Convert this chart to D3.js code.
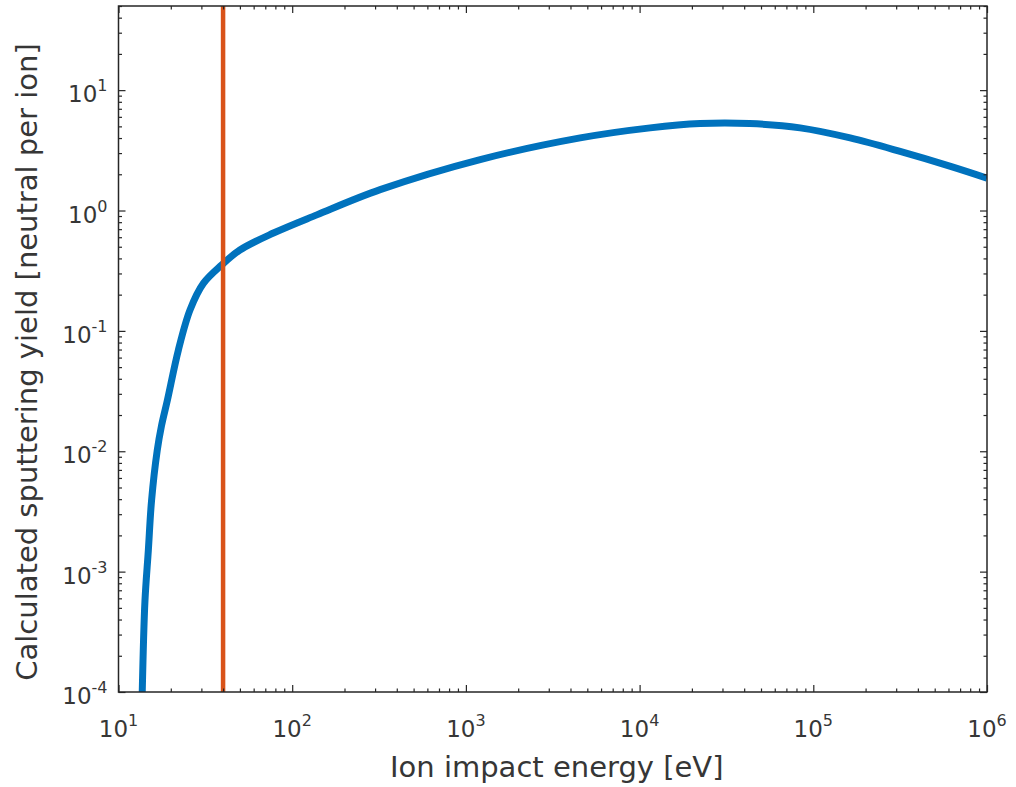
<!DOCTYPE html>
<html>
<head>
<meta charset="utf-8">
<script src="https://cdn.jsdelivr.net/npm/d3@7"></script>
<style>
  body { margin: 0; background: #fff; }
  text { font-family: "DejaVu Sans", sans-serif; fill: #363636; }
</style>
</head>
<body>
<div id="chart"></div>
<script>
// sputtering yield (eV, neutral per ion)
const energy = [13.7, 14.2, 14.85, 15.5, 16.7, 17.7, 19.1, 22.1, 25.8, 30.8, 39.3, 50, 78, 138.6, 321, 1208, 4550, 11500, 22300, 43000, 84000, 163000, 316000, 617000, 1000000];
const yieldVals = [1e-4, 5.7e-4, 1.5e-3, 3.9e-3, 0.0101, 0.0164, 0.0264, 0.069, 0.149, 0.248, 0.353, 0.47, 0.65, 0.92, 1.49, 2.65, 4.01, 4.86, 5.28, 5.28, 4.86, 4.01, 3.1, 2.33, 1.86];
const thresholdEnergy = 40;
const xExponents = [1, 2, 3, 4, 5, 6];
const yExponents = [-4, -3, -2, -1, 0, 1];
const xDomain = [10, 1e6];
const yDomain = [1e-4, 50];

const W = 1016, H = 787;
const margin = { top: 6, right: 29, bottom: 95, left: 118.5 };
const width = W - margin.left - margin.right;
const height = H - margin.top - margin.bottom;

const data = energy.map((e, i) => ({ e: e, y: yieldVals[i] }));

const svg = d3.select("#chart").append("svg")
    .attr("width", W)
    .attr("height", H)
  .append("g")
    .attr("transform", `translate(${margin.left},${margin.top})`);

const x = d3.scaleLog().domain(xDomain).range([0, width]);
const y = d3.scaleLog().domain(yDomain).range([height, 0]);

svg.append("clipPath").attr("id", "clip")
  .append("rect").attr("width", width).attr("height", height);

// minor ticks: 2..9 in each decade
const minorX = [];
xExponents.slice(0, -1).forEach(k => { for (let m = 2; m <= 9; m++) minorX.push(m * Math.pow(10, k)); });
const minorY = [];
for (let k = -4; k <= 1; k++) { for (let m = 2; m <= 9; m++) { const v = m * Math.pow(10, k); if (v <= yDomain[1]) minorY.push(v); } }
const majorX = xExponents.map(k => Math.pow(10, k));
const majorY = yExponents.map(k => Math.pow(10, k));

function styleAxis(g) {
  g.select(".domain").remove();
  g.selectAll("line").attr("stroke", "#262626").attr("stroke-width", 1.2);
}

// curve
const line = d3.line()
    .x(d => x(d.e))
    .y(d => y(d.y))
    .curve(d3.curveCatmullRom.alpha(0.5));

svg.append("path")
    .datum(data)
    .attr("clip-path", "url(#clip)")
    .attr("fill", "none")
    .attr("stroke", "#0072BD")
    .attr("stroke-width", 7)
    .attr("d", line);

// threshold line
svg.append("line")
    .attr("x1", x(thresholdEnergy)).attr("x2", x(thresholdEnergy))
    .attr("y1", 0).attr("y2", height)
    .attr("stroke", "#D95319")
    .attr("stroke-width", 4.5);

// ticks on all four sides, pointing inward
svg.append("g").attr("transform", `translate(0,${height})`)
    .call(d3.axisBottom(x).tickValues(minorX).tickSize(-3.5).tickFormat("")).call(styleAxis);
svg.append("g").attr("transform", `translate(0,${height})`)
    .call(d3.axisBottom(x).tickValues(majorX).tickSize(-7).tickFormat("")).call(styleAxis);
svg.append("g")
    .call(d3.axisTop(x).tickValues(minorX).tickSize(-3.5).tickFormat("")).call(styleAxis);
svg.append("g")
    .call(d3.axisTop(x).tickValues(majorX).tickSize(-7).tickFormat("")).call(styleAxis);
svg.append("g")
    .call(d3.axisLeft(y).tickValues(minorY).tickSize(-3.5).tickFormat("")).call(styleAxis);
svg.append("g")
    .call(d3.axisLeft(y).tickValues(majorY).tickSize(-7).tickFormat("")).call(styleAxis);
svg.append("g").attr("transform", `translate(${width},0)`)
    .call(d3.axisRight(y).tickValues(minorY).tickSize(-3.5).tickFormat("")).call(styleAxis);
svg.append("g").attr("transform", `translate(${width},0)`)
    .call(d3.axisRight(y).tickValues(majorY).tickSize(-7).tickFormat("")).call(styleAxis);

// box
svg.append("rect")
    .attr("width", width).attr("height", height)
    .attr("fill", "none")
    .attr("stroke", "#262626")
    .attr("stroke-width", 1.5);

// tick labels 10^k
function powLabel(sel, k) {
  sel.append("tspan").text("10");
  sel.append("tspan").attr("dy", -11).attr("font-size", 16).text(String(k));
}

svg.selectAll(".xlab")
  .data(xExponents)
  .enter().append("text")
    .attr("class", "xlab")
    .attr("x", k => x(Math.pow(10, k)))
    .attr("y", height + 45)
    .attr("text-anchor", "middle")
    .attr("font-size", 23)
    .each(function(k) { powLabel(d3.select(this), k); });

svg.selectAll(".ylab")
  .data(yExponents)
  .enter().append("text")
    .attr("class", "ylab")
    .attr("x", -11)
    .attr("y", k => y(Math.pow(10, k)) + 12)
    .attr("text-anchor", "end")
    .attr("font-size", 23)
    .each(function(k) { powLabel(d3.select(this), k); });

// axis titles
svg.append("text")
    .attr("x", width / 2 + 4)
    .attr("y", height + 85)
    .attr("text-anchor", "middle")
    .attr("font-size", 29)
    .text("Ion impact energy [eV]");

svg.append("text")
    .attr("transform", `translate(${-82},${height / 2 + 13}) rotate(-90)`)
    .attr("text-anchor", "middle")
    .attr("font-size", 29)
    .text("Calculated sputtering yield [neutral per ion]");
</script>
</body>
</html>
